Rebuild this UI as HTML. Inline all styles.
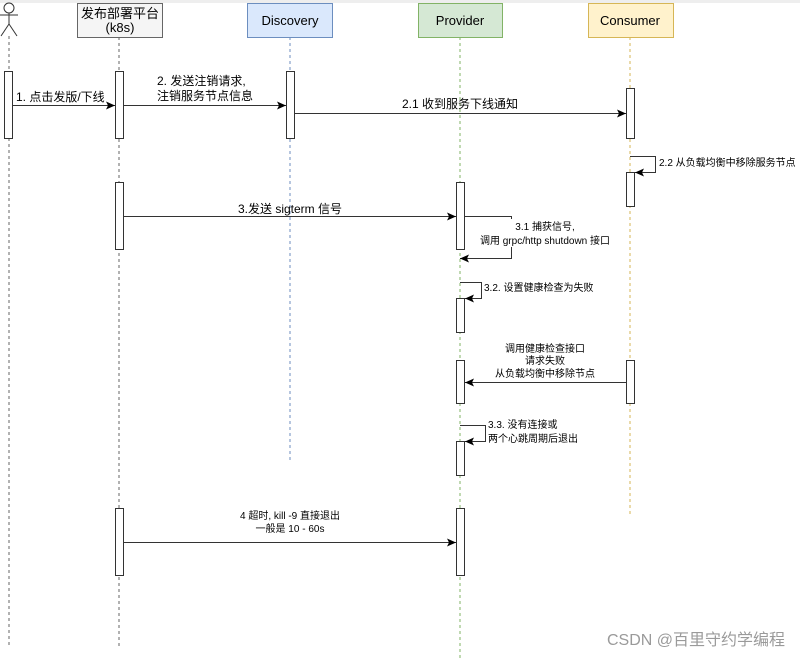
<!DOCTYPE html>
<html><head><meta charset="utf-8"><style>
html,body{margin:0;padding:0;background:#fff;width:800px;height:658px;overflow:hidden}
svg{display:block}
text{font-family:"Liberation Sans","Noto Sans CJK SC",sans-serif;fill:#000}
</style></head><body>
<svg width="800" height="658" viewBox="0 0 800 658" xmlns="http://www.w3.org/2000/svg">
<defs>
<marker id="a" markerWidth="10" markerHeight="8" refX="9" refY="4" orient="auto" markerUnits="userSpaceOnUse">
<path d="M0,0 L9,4 L0,8 L2,4 Z" fill="#000"/></marker>
</defs>
<rect x="0" y="0" width="800" height="3" fill="#eee"/>
<g stroke-dasharray="3,3" stroke-width="1">
<line x1="9" y1="36" x2="9" y2="648" stroke="#666"/>
<line x1="119" y1="37" x2="119" y2="648" stroke="#666"/>
<line x1="290" y1="37" x2="290" y2="462" stroke="#6c8ebf"/>
<line x1="460" y1="37" x2="460" y2="658" stroke="#82b366"/>
<line x1="630" y1="37" x2="630" y2="515" stroke="#d6b656"/>
</g>
<g stroke="#333" fill="#fff" stroke-width="1">
<circle cx="9" cy="8" r="5"/>
<line x1="9" y1="13" x2="9" y2="24"/>
<line x1="0" y1="15" x2="18" y2="15"/>
<line x1="9" y1="24" x2="1" y2="36"/>
<line x1="9" y1="24" x2="17" y2="36"/>
</g>
<rect x="77.5" y="3.5" width="85" height="34" fill="#f5f5f5" stroke="#666"/>
<text x="120" y="18" font-size="13" text-anchor="middle" fill="#333">发布部署平台</text>
<text x="120" y="32" font-size="13" text-anchor="middle" fill="#333">(k8s)</text>
<rect x="247.5" y="3.5" width="85" height="34" fill="#dae8fc" stroke="#6c8ebf"/>
<text x="290" y="25" font-size="13" text-anchor="middle">Discovery</text>
<rect x="418.5" y="3.5" width="84" height="34" fill="#d5e8d4" stroke="#82b366"/>
<text x="460" y="25" font-size="13" text-anchor="middle">Provider</text>
<rect x="588.5" y="3.5" width="85" height="34" fill="#fff2cc" stroke="#d6b656"/>
<text x="630" y="25" font-size="13" text-anchor="middle">Consumer</text>
<g fill="#fff" stroke="#333" stroke-width="1">
<rect x="4.5" y="71.5" width="8" height="67"/>
<rect x="115.5" y="71.5" width="8" height="67"/>
<rect x="286.5" y="71.5" width="8" height="67"/>
<rect x="626.5" y="88.5" width="8" height="50"/>
<rect x="626.5" y="172.5" width="8" height="34"/>
<rect x="115.5" y="182.5" width="8" height="67"/>
<rect x="456.5" y="182.5" width="8" height="67"/>
<rect x="456.5" y="298.5" width="8" height="34"/>
<rect x="456.5" y="360.5" width="8" height="43"/>
<rect x="626.5" y="360.5" width="8" height="43"/>
<rect x="456.5" y="441.5" width="8" height="34"/>
<rect x="115.5" y="508.5" width="8" height="67"/>
<rect x="456.5" y="508.5" width="8" height="67"/>
</g>
<g stroke="#333" fill="none" stroke-width="1">
<line x1="13" y1="105.5" x2="115" y2="105.5" marker-end="url(#a)"/>
<line x1="124" y1="105.5" x2="286" y2="105.5" marker-end="url(#a)"/>
<line x1="295" y1="113.5" x2="626" y2="113.5" marker-end="url(#a)"/>
<polyline points="630,156.5 655.5,156.5 655.5,172.5 635,172.5" marker-end="url(#a)"/>
<line x1="124" y1="216.5" x2="456" y2="216.5" marker-end="url(#a)"/>
<polyline points="465,216.5 511.5,216.5 511.5,258.5 460,258.5" marker-end="url(#a)"/>
<polyline points="460,282.5 481.5,282.5 481.5,298.5 465,298.5" marker-end="url(#a)"/>
<line x1="626" y1="382.5" x2="465" y2="382.5" marker-end="url(#a)"/>
<polyline points="460,425.5 485.5,425.5 485.5,441.5 465,441.5" marker-end="url(#a)"/>
<line x1="124" y1="542.5" x2="456" y2="542.5" marker-end="url(#a)"/>
</g>
<text x="16" y="101" font-size="12">1. 点击发版/下线</text>
<text x="157" y="85" font-size="12">2. 发送注销请求,</text>
<text x="157" y="100" font-size="12">注销服务节点信息</text>
<text x="460" y="108" font-size="12" text-anchor="middle">2.1 收到服务下线通知</text>
<text x="659" y="166" font-size="10">2.2 从负载均衡中移除服务节点</text>
<text x="290" y="213" font-size="12" text-anchor="middle">3.发送 sigterm 信号</text>
<rect x="478" y="219" width="134" height="28" fill="#fff"/>
<text x="545" y="230" font-size="10" text-anchor="middle">3.1 捕获信号,</text>
<text x="545" y="244" font-size="10" text-anchor="middle">调用 grpc/http shutdown 接口</text>
<text x="484" y="291" font-size="10">3.2. 设置健康检查为失败</text>
<text x="545" y="352" font-size="10" text-anchor="middle">调用健康检查接口</text>
<text x="545" y="364" font-size="10" text-anchor="middle">请求失败</text>
<text x="545" y="377" font-size="10" text-anchor="middle">从负载均衡中移除节点</text>
<text x="488" y="428" font-size="10">3.3. 没有连接或</text>
<text x="488" y="442" font-size="10">两个心跳周期后退出</text>
<text x="290" y="519" font-size="10" text-anchor="middle">4 超时, kill -9 直接退出</text>
<text x="290" y="532" font-size="10" text-anchor="middle">一般是 10 - 60s</text>
<text x="785" y="645" font-size="16" text-anchor="end" style="fill:#9a9a9a">CSDN @百里守约学编程</text>
</svg>
</body></html>
